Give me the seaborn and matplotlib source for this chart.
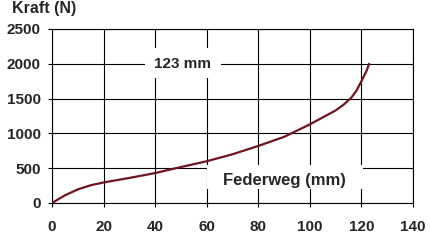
import matplotlib
matplotlib.use("Agg")
import matplotlib.pyplot as plt
import seaborn as sns
import pandas as pd
from matplotlib.patches import Rectangle

# Data
federweg = [0, 5, 10, 15, 20, 30, 40, 48, 60, 70, 80, 90, 100, 110, 113, 116, 118, 120, 122, 123]
kraft = [0, 110, 195, 255, 295, 360, 430, 500, 600, 700, 820, 950, 1130, 1330, 1410, 1510, 1610, 1750, 1900, 2000]
xticks = [0, 20, 40, 60, 80, 100, 120, 140]
yticks = [0, 500, 1000, 1500, 2000, 2500]

df = pd.DataFrame({"Federweg": federweg, "Kraft": kraft})

sns.set_style("white")
plt.rcParams["font.family"] = ["Liberation Sans", "DejaVu Sans"]
plt.rcParams["font.weight"] = "bold"

fig = plt.figure(figsize=(4.30, 2.41), dpi=100)
ax = fig.add_axes([52 / 430, 1 - 203 / 241, (413 - 52) / 430, (203 - 29) / 241])

sns.lineplot(data=df, x="Federweg", y="Kraft", ax=ax, color="#6e1420", linewidth=1.6, zorder=3)

ax.set_xlim(0, 140)
ax.set_ylim(0, 2500)
ax.set_xticks(xticks)
ax.set_yticks(yticks)
ax.set_xticklabels([str(t) for t in xticks], fontsize=11, fontweight="bold")
ax.set_yticklabels([str(t) for t in yticks], fontsize=11, fontweight="bold")
ax.set_xlabel("")
ax.set_ylabel("")

ax.grid(True, color="black", linewidth=0.8)
ax.set_axisbelow(True)
for s in ax.spines.values():
    s.set_color("black")
    s.set_linewidth(0.8)
ax.tick_params(axis="x", direction="out", length=3, width=0.8, color="black", pad=9, bottom=True)
ax.tick_params(axis="y", direction="out", length=3, width=0.8, color="black", pad=5, left=True)

# white label boxes covering the grid
ax.add_patch(Rectangle((36, 1796), 29.5, 431, facecolor="white", edgecolor="none", zorder=2))
ax.add_patch(Rectangle((60.3, 200), 60.3, 340, facecolor="white", edgecolor="none", zorder=2))
ax.text(50.7, 2000, "123 mm", ha="center", va="center", fontsize=11, fontweight="bold", zorder=4)
ax.text(90, 330, "Federweg (mm)", ha="center", va="center", fontsize=12, fontweight="bold", zorder=4)

fig.text(12 / 430, 1 - 9 / 241, "Kraft (N)", ha="left", va="center", fontsize=11.5, fontweight="bold")

fig.savefig("out.png", dpi=100, facecolor="white")
